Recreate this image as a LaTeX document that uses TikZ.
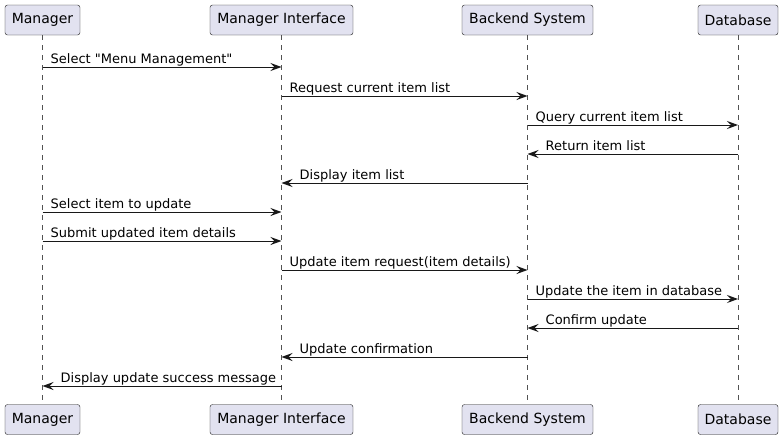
\documentclass[tikz,border=0pt]{standalone}
\usepackage{fontspec}
\setmainfont{DejaVu Sans}[Ligatures=TeXOff]
\usetikzlibrary{arrows.meta}
\definecolor{partfill}{HTML}{E2E2F0}
\definecolor{partline}{HTML}{181818}
\begin{document}
\begin{tikzpicture}[x=1pt,y=-1pt,
  part/.style={draw=partline, fill=partfill, rounded corners=2.5pt, minimum height=30pt, inner xsep=0pt, font=\fontsize{14}{16}\selectfont},
  life/.style={draw=partline!75, dash pattern=on 5pt off 5pt, line width=0.6pt},
  msg/.style={draw=partline, line width=1pt, -{Stealth[length=11pt,width=8pt,inset=4pt]}},
  lbl/.style={anchor=base west, inner sep=0pt, font=\fontsize{13}{15}\selectfont}]
\useasboundingbox (0,0) rectangle (783,440);
\node [part, minimum width=75pt] (mgr) at (42.5,20) {Manager};
\node [part, minimum width=143pt] (ui) at (281.5,20) {Manager Interface};
\node [part, minimum width=131pt] (be) at (527.5,20) {Backend System};
\node [part, minimum width=80pt] (db) at (738,20) {Database};
\node [part, minimum width=75pt] (mgrb) at (42.5,419.5) {Manager};
\node [part, minimum width=143pt] (uib) at (281.5,419.5) {Manager Interface};
\node [part, minimum width=131pt] (beb) at (527.5,419.5) {Backend System};
\node [part, minimum width=80pt] (dbb) at (738,419.5) {Database};
\draw [life] (mgr.south) -- (mgrb.north);
\draw [life] (ui.south) -- (uib.north);
\draw [life] (be.south) -- (beb.north);
\draw [life] (db.south) -- (dbb.north);
\draw [msg] (mgr.south |- 0,67) -- (ui.south |- 0,67);
\node [lbl] (m1) at (50.5,63) {Select "Menu Management"};
\draw [msg] (ui.south |- 0,96) -- (be.south |- 0,96);
\node [lbl] (m2) at (289.5,92) {Request current item list};
\draw [msg] (be.south |- 0,125) -- (db.south |- 0,125);
\node [lbl] (m3) at (535.5,121) {Query current item list};
\draw [msg] (db.south |- 0,154) -- (be.south |- 0,154);
\node [lbl] (m4) at (545.5,150) {Return item list};
\draw [msg] (be.south |- 0,183) -- (ui.south |- 0,183);
\node [lbl] (m5) at (299.5,179) {Display item list};
\draw [msg] (mgr.south |- 0,212) -- (ui.south |- 0,212);
\node [lbl] (m6) at (50.5,208) {Select item to update};
\draw [msg] (mgr.south |- 0,241) -- (ui.south |- 0,241);
\node [lbl] (m7) at (50.5,237) {Submit updated item details};
\draw [msg] (ui.south |- 0,270) -- (be.south |- 0,270);
\node [lbl] (m8) at (289.5,266) {Update item request(item details)};
\draw [msg] (be.south |- 0,299) -- (db.south |- 0,299);
\node [lbl] (m9) at (535.5,295) {Update the item in database};
\draw [msg] (db.south |- 0,328) -- (be.south |- 0,328);
\node [lbl] (m10) at (545.5,324) {Confirm update};
\draw [msg] (be.south |- 0,357) -- (ui.south |- 0,357);
\node [lbl] (m11) at (299.5,353) {Update confirmation};
\draw [msg] (ui.south |- 0,386) -- (mgr.south |- 0,386);
\node [lbl] (m12) at (60.5,382) {Display update success message};
\end{tikzpicture}
\end{document}
